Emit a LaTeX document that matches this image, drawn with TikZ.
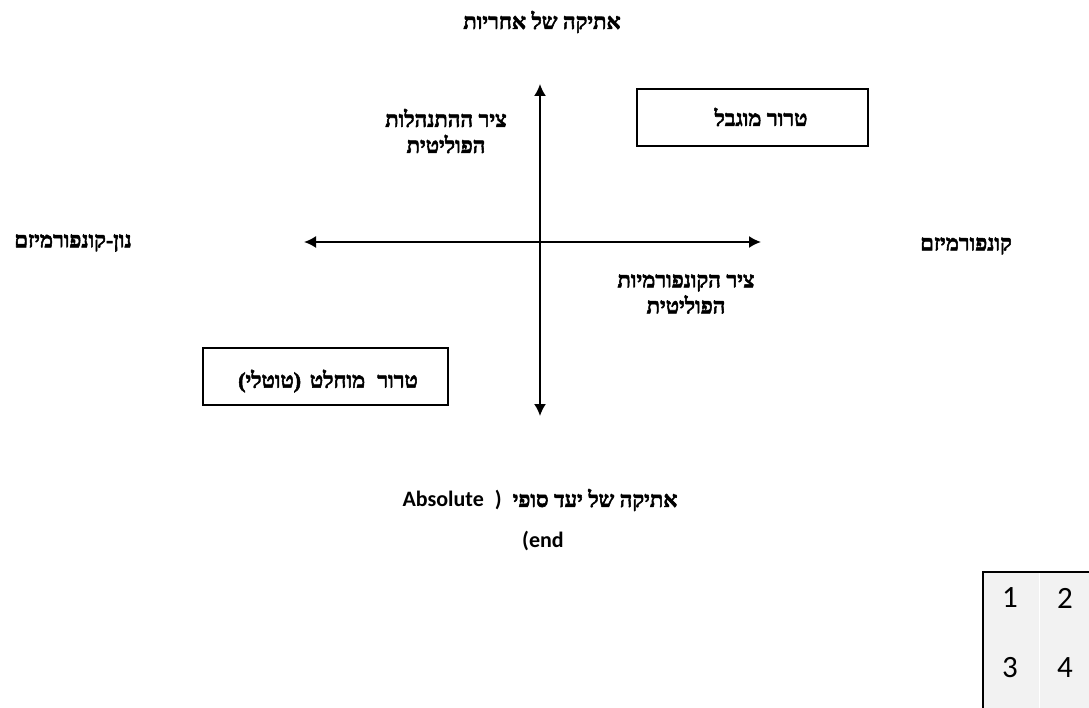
\documentclass[tikz,border=0pt]{standalone}
\usepackage{fontspec}
\TeXXeTstate=1
\newfontfamily\hebfont[Script=Hebrew, FakeBold=2.4]{Liberation Serif}
\newfontfamily\parfont[FakeBold=2.4]{Liberation Serif}
\newfontfamily\latfont{Carlito}
\newcommand\hb[1]{\hbox{\beginR #1\endR}}
\usetikzlibrary{arrows.meta}
\begin{document}
\begin{tikzpicture}[x=1pt,y=-1pt,
  lbl/.style={font=\hebfont\bfseries\fontsize{22}{26}\selectfont, align=center, inner sep=0pt},
  latin/.style={font=\latfont\bfseries\fontsize{22}{26}\selectfont, inner sep=0pt},
  boxed/.style={draw, line width=1.6pt},
  axis/.style={line width=1.8pt, {Latex[length=12pt,width=12pt]}-{Latex[length=12pt,width=12pt]}},
  num/.style={font=\latfont\fontsize{31}{31}\selectfont, inner sep=0pt}]
\useasboundingbox (0,0) rectangle (1089,708);
% axes
\coordinate (top) at (540,84);
\coordinate (bot) at (540,416);
\coordinate (lft) at (304,242);
\coordinate (rgt) at (761,242);
\draw[axis] (bot) -- (top);
\draw[axis] (lft) -- (rgt);
% labels
\node[lbl] (title) at (542,22) {\hb{אתיקה של אחריות}};
\node[lbl] (vax) at (446,131) {\hb{ציר ההתנהלות}\\\hb{הפוליטית}};
\node[lbl] (nonconf) at (73,243) {\hb{נון-קונפורמיזם}};
\node[lbl] (conf) at (966,246) {\hb{קונפורמיזם}};
\node[lbl] (hax) at (686,294) {\hb{ציר הקונפורמיות}\\\hb{הפוליטית}};
% boxes
\draw[boxed] (637,89) rectangle (868,146);
\node[lbl] (limited) at (761,117) {\hb{טרור מוגבל}};
\draw[boxed] (203,348) rectangle (448,405);
\node[lbl] (absolute) at (328,381) {\hbox{\parfont\bfseries(}\hb{טוטלי}\hbox{\parfont\bfseries)}\hspace{0.4em}\hb{טרור\hspace{0.55em}מוחלט}};
% bottom label
\node[lbl] (bottom1) at (540,500) {\hbox{\latfont\bfseries Absolute}\hspace{0.5em}\hbox{\latfont\bfseries )}\hspace{0.5em}\hb{אתיקה של יעד סופי}};
\node[latin] (bottom2) at (543,541) {(end};
% table
\fill[black!5] (983,572) rectangle (1089,708);
\draw[white, line width=0.8pt] (1039,572) -- (1039,708);
\draw[line width=1.6pt] (983,708) -- (983,572) -- (1089,572);
\node[num] (n1) at (1010,598) {1};
\node[num] (n2) at (1065,598) {2};
\node[num] (n3) at (1010,668) {3};
\node[num] (n4) at (1065,668) {4};
\end{tikzpicture}
\end{document}
